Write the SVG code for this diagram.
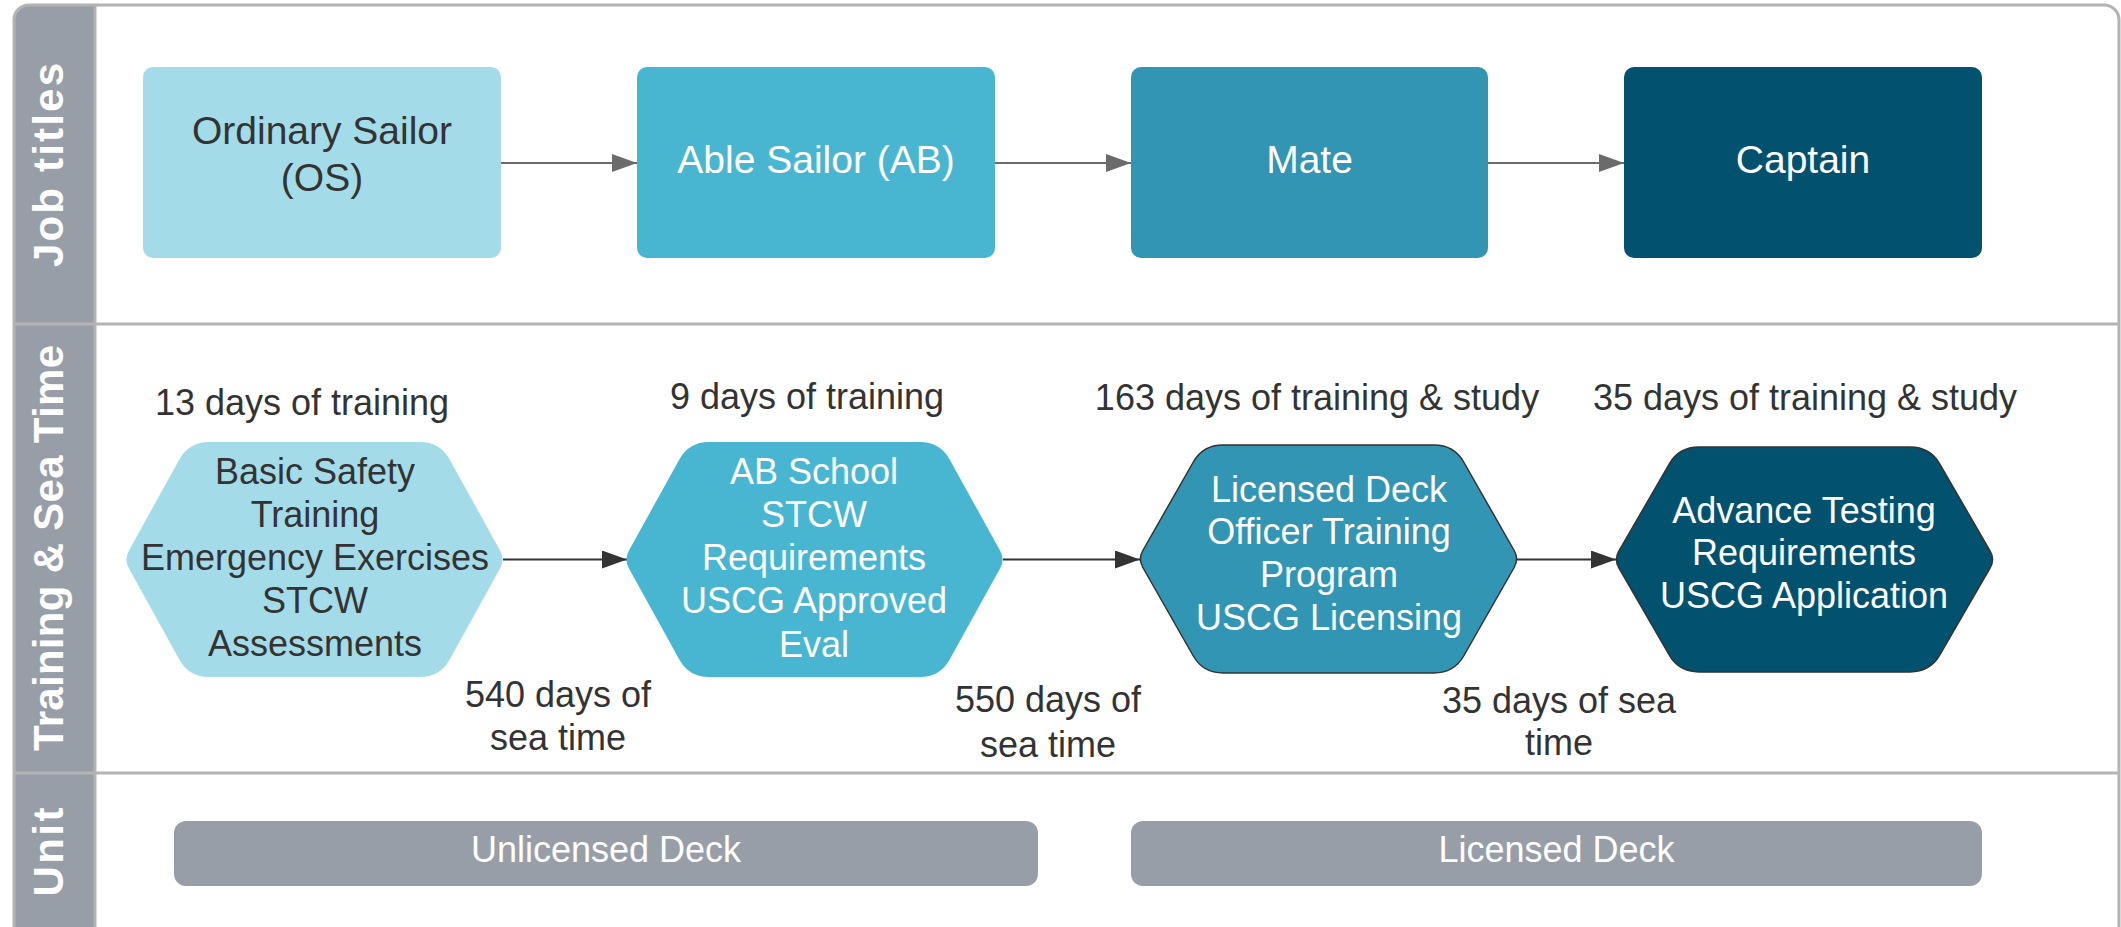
<svg xmlns="http://www.w3.org/2000/svg" xmlns:xlink="http://www.w3.org/1999/xlink" width="2121" height="927" viewBox="0 0 2121 927">
  <style>
    .t { font-family: "Liberation Sans", Arial, sans-serif; font-size: 36px; text-anchor: middle; }
    .dark { fill: #333333; }
    .light { fill: #ffffff; }
    .job { font-size: 39px; }
    .lane { font-family: "Liberation Sans", Arial, sans-serif; font-size: 42px; font-weight: bold; fill: #ffffff; text-anchor: middle; }
    .frame { fill: none; stroke: #b3b3b3; stroke-width: 3; }
    .sep { stroke: #b3b3b3; stroke-width: 3; }
    .c1 { fill: #a4dbe8; }
    .c2 { fill: #49b6d1; }
    .c3 { fill: #3195b3; }
    .c4 { fill: #02516f; }
    .outl { stroke: #333333; stroke-width: 1.5; }
    .pill { fill: #989ea8; }
    .conn-top { stroke: #6b6b6b; stroke-width: 2; fill: none; }
    .conn-bot { stroke: #333333; stroke-width: 2; fill: none; }
  </style>
  <defs>
    <marker id="arrGray" markerUnits="userSpaceOnUse" markerWidth="26" markerHeight="18" refX="25" refY="9" orient="auto">
      <path d="M0,0 L25,9 L0,18 Z" fill="#6b6b6b"/>
    </marker>
    <marker id="arrDark" markerUnits="userSpaceOnUse" markerWidth="26" markerHeight="18" refX="25" refY="9" orient="auto">
      <path d="M0,0 L25,9 L0,18 Z" fill="#333333"/>
    </marker>
    <path id="hex" d="M -105.5,-117.5 L 105.5,-117.5 Q 125.5,-117.5 135.18,-100 L 185.66,-8.75 Q 190.5,0 185.66,8.75 L 135.18,100 Q 125.5,117.5 105.5,117.5 L -105.5,117.5 Q -125.5,117.5 -135.18,100 L -185.66,8.75 Q -190.5,0 -185.66,-8.75 L -135.18,-100 Q -125.5,-117.5 -105.5,-117.5 Z"/>
  </defs>

  <rect x="0" y="0" width="2121" height="927" fill="#ffffff"/>

  <g id="swimlanes">
    <path d="M14,960 L14,20 Q14,5 29,5 L95,5 L95,960 Z" fill="#989ea8"/>
    <rect class="frame" x="14" y="5" width="2105" height="960" rx="15"/>
    <line class="sep" x1="95" y1="5" x2="95" y2="927"/>
    <line class="sep" x1="14" y1="324" x2="2119" y2="324"/>
    <line class="sep" x1="14" y1="773" x2="2119" y2="773"/>
    <text class="lane" transform="translate(63,165) rotate(-90)" textLength="204" lengthAdjust="spacing">Job titles</text>
    <text class="lane" transform="translate(63,548) rotate(-90)" textLength="406" lengthAdjust="spacing">Training &amp; Sea Time</text>
    <text class="lane" transform="translate(63,852) rotate(-90)" textLength="89" lengthAdjust="spacing">Unit</text>
  </g>

  <g id="connectors">
    <line class="conn-top" x1="501" y1="163" x2="637" y2="163" marker-end="url(#arrGray)"/>
    <line class="conn-top" x1="995" y1="163" x2="1131" y2="163" marker-end="url(#arrGray)"/>
    <line class="conn-top" x1="1488" y1="163" x2="1624" y2="163" marker-end="url(#arrGray)"/>
    <line class="conn-bot" x1="503" y1="559.5" x2="627" y2="559.5" marker-end="url(#arrDark)"/>
    <line class="conn-bot" x1="1003" y1="559.5" x2="1140" y2="559.5" marker-end="url(#arrDark)"/>
    <line class="conn-bot" x1="1517" y1="559.5" x2="1616" y2="559.5" marker-end="url(#arrDark)"/>
  </g>

  <g id="node-os">
    <rect class="c1" x="143" y="67" width="358" height="191" rx="10"/>
    <text class="t job dark" x="322" y="144">Ordinary Sailor</text>
    <text class="t job dark" x="322" y="191">(OS)</text>
  </g>
  <g id="node-ab">
    <rect class="c2" x="637" y="67" width="358" height="191" rx="10"/>
    <text class="t job light" x="816" y="173">Able Sailor (AB)</text>
  </g>
  <g id="node-mate">
    <rect class="c3" x="1131" y="67" width="357" height="191" rx="10"/>
    <text class="t job light" x="1309.5" y="173">Mate</text>
  </g>
  <g id="node-captain">
    <rect class="c4" x="1624" y="67" width="358" height="191" rx="10"/>
    <text class="t job light" x="1803" y="173">Captain</text>
  </g>

  <g id="node-basic-safety">
    <use xlink:href="#hex" href="#hex" class="c1" transform="translate(314.5,559.5)"/>
    <text class="t dark" x="315" y="484">Basic Safety</text>
    <text class="t dark" x="315" y="527">Training</text>
    <text class="t dark" x="315" y="570">Emergency Exercises</text>
    <text class="t dark" x="315" y="613">STCW</text>
    <text class="t dark" x="315" y="656">Assessments</text>
  </g>
  <g id="node-ab-school">
    <use xlink:href="#hex" href="#hex" class="c2" transform="translate(814.5,559.5)"/>
    <text class="t light" x="814" y="484">AB School</text>
    <text class="t light" x="814" y="527">STCW</text>
    <text class="t light" x="814" y="570">Requirements</text>
    <text class="t light" x="814" y="613">USCG Approved</text>
    <text class="t light" x="814" y="657">Eval</text>
  </g>
  <g id="node-licensed-deck">
    <use xlink:href="#hex" href="#hex" class="c3 outl" transform="translate(1328.5,559) scale(1,0.97)"/>
    <text class="t light" x="1329" y="502">Licensed Deck</text>
    <text class="t light" x="1329" y="544">Officer Training</text>
    <text class="t light" x="1329" y="587">Program</text>
    <text class="t light" x="1329" y="630">USCG Licensing</text>
  </g>
  <g id="node-advance-testing">
    <use xlink:href="#hex" href="#hex" class="c4 outl" transform="translate(1804.5,559.5) scale(1,0.957)"/>
    <text class="t light" x="1804" y="523">Advance Testing</text>
    <text class="t light" x="1804" y="565">Requirements</text>
    <text class="t light" x="1804" y="608">USCG Application</text>
  </g>

  <g id="labels">
    <text class="t dark" x="302" y="415">13 days of training</text>
    <text class="t dark" x="807" y="409">9 days of training</text>
    <text class="t dark" x="1317" y="410">163 days of training &amp; study</text>
    <text class="t dark" x="1805" y="410">35 days of training &amp; study</text>
    <text class="t dark" x="558" y="707">540 days of</text>
    <text class="t dark" x="558" y="750">sea time</text>
    <text class="t dark" x="1048" y="712">550 days of</text>
    <text class="t dark" x="1048" y="757">sea time</text>
    <text class="t dark" x="1559" y="713">35 days of sea</text>
    <text class="t dark" x="1559" y="755">time</text>
  </g>

  <g id="unit-unlicensed">
    <rect class="pill" x="174" y="821" width="864" height="65" rx="12"/>
    <text class="t light" x="606" y="862">Unlicensed Deck</text>
  </g>
  <g id="unit-licensed">
    <rect class="pill" x="1131" y="821" width="851" height="65" rx="12"/>
    <text class="t light" x="1556.5" y="862">Licensed Deck</text>
  </g>
</svg>
